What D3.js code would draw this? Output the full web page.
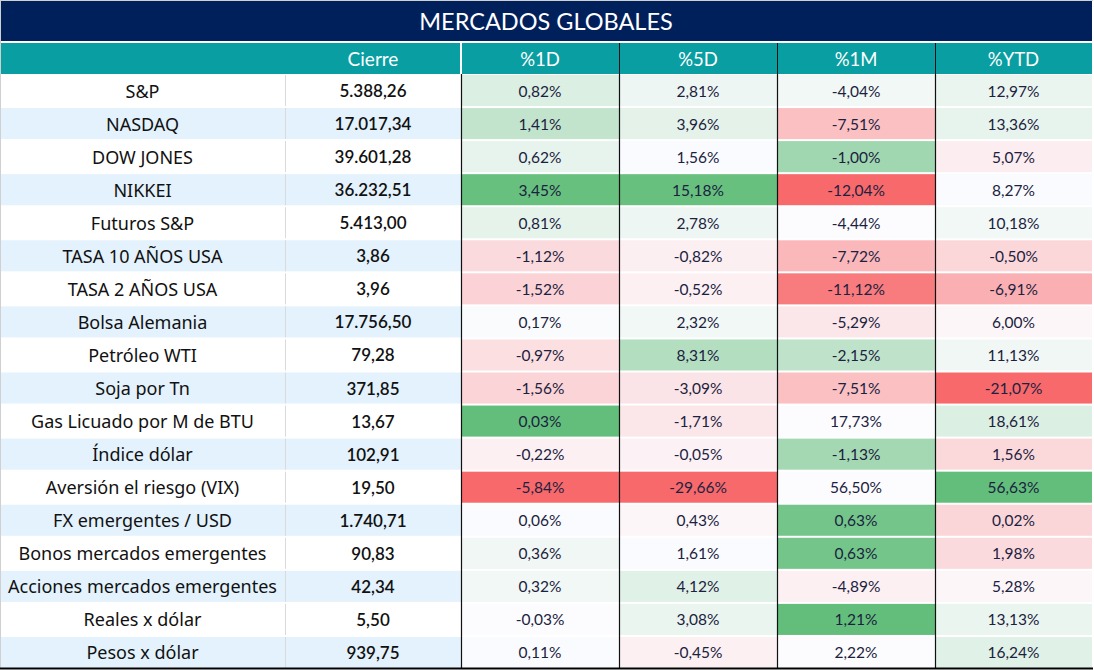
<!DOCTYPE html>
<html><head><meta charset="utf-8">
<script src="https://cdn.jsdelivr.net/npm/d3@7"></script>
<style>
html,body{margin:0;padding:0;background:#fff;}
svg{display:block;}
</style></head>
<body>
<svg id="chart" width="1094" height="670"></svg>
<script>
const title = "MERCADOS GLOBALES";
const headers = ["Cierre", "%1D", "%5D", "%1M", "%YTD"];
const names = ["S&P","NASDAQ","DOW JONES","NIKKEI","Futuros S&P","TASA 10 AÑOS USA","TASA 2 AÑOS USA","Bolsa Alemania","Petróleo WTI","Soja por Tn","Gas Licuado por M de BTU","Índice dólar","Aversión el riesgo (VIX)","FX emergentes / USD","Bonos mercados emergentes","Acciones mercados emergentes","Reales x dólar","Pesos x dólar"];
const cierre = ["5.388,26","17.017,34","39.601,28","36.232,51","5.413,00","3,86","3,96","17.756,50","79,28","371,85","13,67","102,91","19,50","1.740,71","90,83","42,34","5,50","939,75"];
const pct1D = ["0,82%","1,41%","0,62%","3,45%","0,81%","-1,12%","-1,52%","0,17%","-0,97%","-1,56%","0,03%","-0,22%","-5,84%","0,06%","0,36%","0,32%","-0,03%","0,11%"];
const pct5D = ["2,81%","3,96%","1,56%","15,18%","2,78%","-0,82%","-0,52%","2,32%","8,31%","-3,09%","-1,71%","-0,05%","-29,66%","0,43%","1,61%","4,12%","3,08%","-0,45%"];
const pct1M = ["-4,04%","-7,51%","-1,00%","-12,04%","-4,44%","-7,72%","-11,12%","-5,29%","-2,15%","-7,51%","17,73%","-1,13%","56,50%","0,63%","0,63%","-4,89%","1,21%","2,22%"];
const pctYTD = ["12,97%","13,36%","5,07%","8,27%","10,18%","-0,50%","-6,91%","6,00%","11,13%","-21,07%","18,61%","1,56%","56,63%","0,02%","1,98%","5,28%","13,13%","16,24%"];
// conditional-format intensity (-1 red .. 0 white .. 1 green)
const heat1D = [0.21,0.38,0.14,0.97,0.15,-0.23,-0.28,0.02,-0.2,-0.27,1,-0.08,-1,0.01,0.08,0.07,-0.01,0.01];
const heat5D = [0.09,0.16,0.01,0.97,0.09,-0.09,-0.08,0.07,0.48,-0.16,-0.14,-0.07,-1,-0.04,0.01,0.18,0.12,-0.08];
const heat1M = [0.07,-0.41,0.6,-1,0,-0.46,-0.88,-0.14,0.4,-0.41,0,0.58,0,0.89,0.89,-0.08,1,0];
const heatYTD = [0.11,0.14,-0.1,0.01,0.07,-0.25,-0.52,-0.04,0.08,-1,0.21,-0.24,1,-0.26,-0.23,-0.04,0.12,0.18];

const pctCols = [
  {key:"%1D", vals:pct1D, heat:heat1D},
  {key:"%5D", vals:pct5D, heat:heat5D},
  {key:"%1M", vals:pct1M, heat:heat1M},
  {key:"%YTD", vals:pctYTD, heat:heatYTD}
];

const svg = d3.select("#chart");
const W = 1092;
const FONT = "Lato, 'Noto Sans', sans-serif";
const LFONT = "'Noto Sans', sans-serif";

// column geometry via ordinal scales
const colKeys = ["name","Cierre","%1D","%5D","%1M","%YTD"];
const colX = d3.scaleOrdinal().domain(colKeys).range([0,285,461,619,777,935]);
const colW = d3.scaleOrdinal().domain(colKeys).range([285,176,158,158,158,157]);

const y = d3.scaleBand().domain(names).range([74.5, 668.5]).paddingInner(2/33).paddingOuter(0.5/33);
const heatColor = d3.scaleLinear().domain([-1,0,1]).range(["#F8696B","#FCFCFF","#63BE7B"]);

// title
svg.append("rect").attr("x",0).attr("y",1).attr("width",W).attr("height",40).attr("fill","#00205B");
svg.append("text").attr("x",W/2).attr("y",21).attr("text-anchor","middle").attr("dominant-baseline","central")
  .attr("fill","#fff").attr("font-family",FONT).attr("font-size",23.5).text(title);

// header
svg.append("rect").attr("x",0).attr("y",43).attr("width",W).attr("height",31).attr("fill","#089EA2");
svg.append("text").attr("x",colX("Cierre")+colW("Cierre")/2).attr("y",58.5).attr("text-anchor","middle")
  .attr("dominant-baseline","central").attr("fill","#fff").attr("font-family",FONT).attr("font-size",19).text(headers[0]);
pctCols.forEach(c=>{
  svg.append("text").attr("x",colX(c.key)+colW(c.key)/2).attr("y",58.5).attr("text-anchor","middle")
    .attr("dominant-baseline","central").attr("fill","#fff").attr("font-family",FONT).attr("font-size",18.5).text(c.key);
});
svg.append("line").attr("x1",461).attr("x2",461).attr("y1",43).attr("y2",74).attr("stroke","#fff").attr("stroke-width",2);
["%5D","%1M","%YTD"].forEach(k=>{
  svg.append("line").attr("x1",colX(k)+0.5).attr("x2",colX(k)+0.5).attr("y1",43).attr("y2",74).attr("stroke","#111").attr("stroke-width",1);
});

// rows
const rows = svg.append("g").selectAll("g").data(names).join("g");
rows.append("rect").attr("x",0).attr("y",d=>y(d)).attr("width",colX("%1D")).attr("height",y.bandwidth())
  .attr("fill",(d,i)=> i%2 ? "#E3F2FD" : "#FFFFFF");
rows.append("line").attr("x1",285.5).attr("x2",285.5).attr("y1",d=>y(d)).attr("y2",d=>y(d)+y.bandwidth())
  .attr("stroke","#DADADA");
rows.append("text").attr("x",colX("name")+colW("name")/2).attr("y",d=>y(d)+y.bandwidth()/2)
  .attr("text-anchor","middle").attr("dominant-baseline","central").attr("fill","#111")
  .attr("font-family",LFONT).attr("font-size",18).text(d=>d);
rows.append("text").attr("x",colX("Cierre")+colW("Cierre")/2).attr("y",d=>y(d)+y.bandwidth()/2)
  .attr("text-anchor","middle").attr("dominant-baseline","central").attr("fill","#111").attr("font-weight",600)
  .attr("font-family",FONT).attr("font-size",17).text((d,i)=>cierre[i]);

pctCols.forEach(c=>{
  const g = svg.append("g");
  g.selectAll("rect").data(names).join("rect")
    .attr("x",colX(c.key)).attr("y",d=>y(d)).attr("width",colW(c.key)).attr("height",y.bandwidth())
    .attr("fill",(d,i)=>heatColor(c.heat[i]));
  g.selectAll("text").data(names).join("text")
    .attr("x",colX(c.key)+colW(c.key)/2).attr("y",d=>y(d)+y.bandwidth()/2)
    .attr("text-anchor","middle").attr("dominant-baseline","central").attr("fill","#1B2240")
    .attr("font-family",FONT).attr("font-size",15.5).text((d,i)=>c.vals[i]);
});

// vertical dark separators in body
["%1D","%5D","%1M","%YTD"].forEach(k=>{
  svg.append("line").attr("x1",colX(k)+0.5).attr("x2",colX(k)+0.5).attr("y1",74).attr("y2",668)
    .attr("stroke","#111").attr("stroke-width",1.2);
});
// outer lines
svg.append("line").attr("x1",0.5).attr("x2",0.5).attr("y1",0).attr("y2",668).attr("stroke","#D0D0D0");
svg.append("line").attr("x1",0).attr("x2",W+1).attr("y1",0.5).attr("y2",0.5).attr("stroke","#D0D0D0");
svg.append("line").attr("x1",0).attr("x2",W+1).attr("y1",668.5).attr("y2",668.5).attr("stroke","#000").attr("stroke-width",2);
</script>
</body></html>
